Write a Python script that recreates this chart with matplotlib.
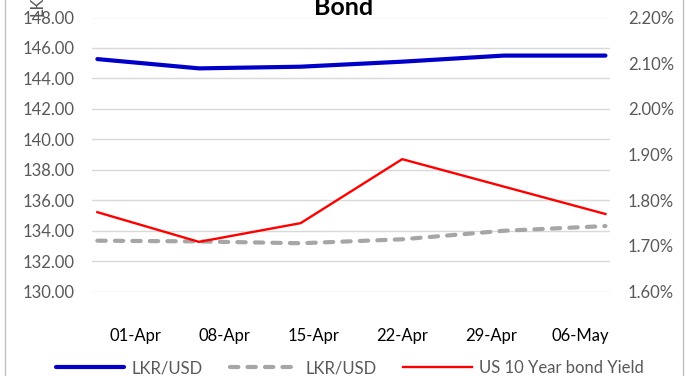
import datetime as dt
import matplotlib
matplotlib.use("Agg")
import matplotlib.pyplot as plt
import matplotlib.dates as mdates
from matplotlib.patches import Rectangle
from matplotlib.ticker import FuncFormatter, MultipleLocator

plt.rcParams["font.family"] = ["Lato", "DejaVu Sans"]

# data
dates = ["2021-03-29", "2021-04-06", "2021-04-14", "2021-04-22", "2021-04-30", "2021-05-08"]
lkr_usd = [145.27, 144.66, 144.77, 145.10, 145.50, 145.50]
lkr_usd_2 = [133.35, 133.30, 133.18, 133.44, 134.00, 134.31]
us10y = [1.774, 1.709, 1.750, 1.890, 1.830, 1.770]   # percent
tick_dates = ["2021-04-01", "2021-04-08", "2021-04-15", "2021-04-22", "2021-04-29", "2021-05-06"]

x = [dt.datetime.strptime(d, "%Y-%m-%d") for d in dates]
xt = [dt.datetime.strptime(d, "%Y-%m-%d") for d in tick_dates]

W, H = 686, 376
fig = plt.figure(figsize=(W / 100, H / 100), dpi=100)
L, R, T, B = 92.3, 610, 17.5, 291.7
ax = fig.add_axes([L / W, 1 - B / H, (R - L) / W, (B - T) / H])
ax2 = ax.twinx()

grid_c = "#d9d9d9"
lbl_c = "#595959"

l1, = ax.plot(x, lkr_usd, color="#0000c8", lw=3.0, solid_capstyle="round", label="LKR/USD", zorder=3)
l2, = ax.plot(x, lkr_usd_2, color="#a6a6a6", lw=3.0, dashes=(2, 2.2), dash_capstyle="round",
              label="LKR/USD", zorder=3)
l3, = ax2.plot(x, us10y, color="#ff0000", lw=1.7, label="US 10 Year bond Yield", zorder=3)

ax.set_ylim(130, 148)
ax.yaxis.set_major_locator(MultipleLocator(2))
ax.yaxis.set_major_formatter(FuncFormatter(lambda v, p: f"{v:.2f}"))
ax2.set_ylim(1.60, 2.20)
ax2.yaxis.set_major_locator(MultipleLocator(0.10))
ax2.yaxis.set_major_formatter(FuncFormatter(lambda v, p: f"{v:.2f}%"))

x0 = mdates.date2num(xt[0])
ax.set_xlim(x0 - 3.4, x0 + 37.36)
ax.set_xticks(xt)
ax.xaxis.set_major_formatter(mdates.DateFormatter("%d-%b"))

ax.grid(axis="y", color=grid_c, lw=1.0)
ax.set_axisbelow(True)
for a in (ax, ax2):
    for s in a.spines.values():
        s.set_visible(False)
ax.tick_params(axis="y", length=0, pad=13, labelsize=12, labelcolor=lbl_c)
ax2.tick_params(axis="y", length=0, pad=13, labelsize=12, labelcolor=lbl_c)
ax.tick_params(axis="x", length=0, pad=26, labelsize=12, labelcolor="black")

# title and y label, both cut off at the top like the source
fig.text(344 / W, 1 - 15 / H, "Bond", ha="center", va="baseline", fontsize=18, fontweight="bold")
fig.text(37 / W, 1 - 16 / H, "LKR/USD", rotation=90, ha="center", va="bottom", fontsize=12, color=lbl_c)

fig.legend(handles=[l1, l2, l3], loc="center", bbox_to_anchor=(350 / W, 1 - 368 / H), ncol=3,
           frameon=False, fontsize=12, handlelength=4.1, handletextpad=0.45, columnspacing=1.6,
           labelcolor=lbl_c, borderaxespad=0, borderpad=0)

fig.add_artist(Rectangle((5 / W, -0.05), (683 - 5) / W, 1.1, transform=fig.transFigure,
                         fill=False, edgecolor="#bfbfbf", lw=1.0))

fig.savefig("out.png", dpi=100, facecolor="white")
